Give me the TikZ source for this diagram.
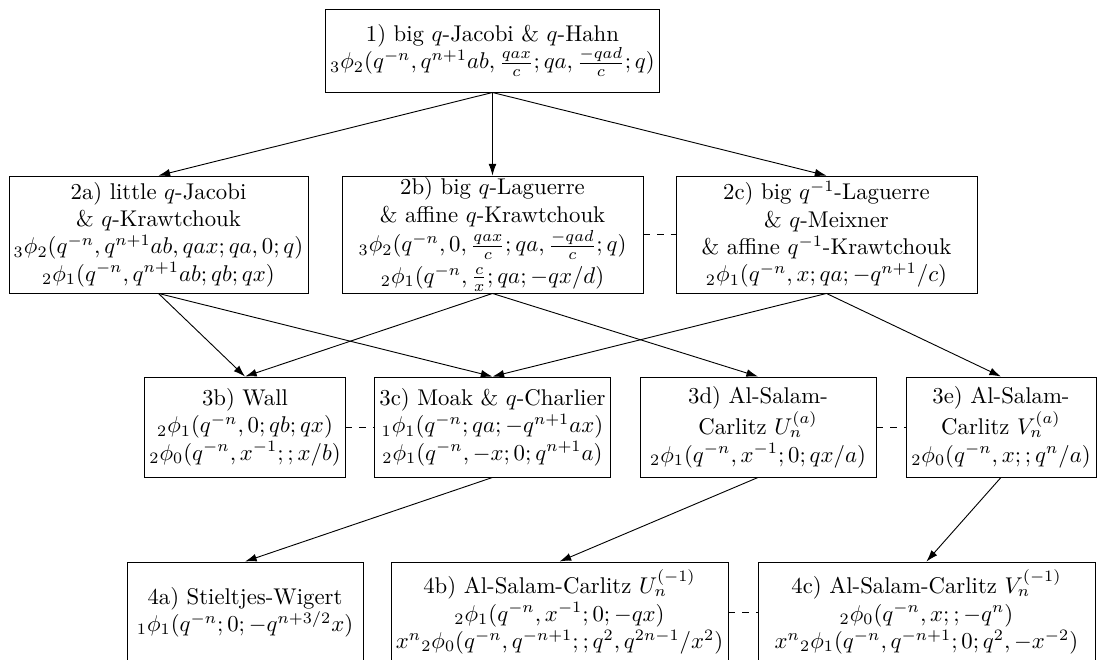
\documentclass[tikz,border=0pt]{standalone}
\usepackage{amsmath,amssymb}
\usepackage{tikz}
\usetikzlibrary{arrows.meta}

\begin{document}
\begin{tikzpicture}[>={Latex[length=1.8mm,width=1.2mm]},
  fam/.style={draw, align=center, inner sep=2pt}]
  \useasboundingbox (0,0) rectangle (16.984,-10.19);
  % level 1
  \node[fam, minimum width=5.142cm, minimum height=1.282cm] (n1) at (7.604,-0.78)
    {1) big $q$-Jacobi \& $q$-Hahn\\
     ${}_3\phi_2(q^{-n},q^{n+1}ab,\frac{qax}{c};qa,\frac{-qad}{c};q)$};
  % level 2
  \node[fam, minimum width=4.617cm, minimum height=1.806cm] (n2a) at (2.447,-3.621)
    {2a) little $q$-Jacobi\\ \& $q$-Krawtchouk\\
     ${}_3\phi_2(q^{-n},q^{n+1}ab,qax;qa,0;q)$\\
     ${}_2\phi_1(q^{-n},q^{n+1}ab;qb;qx)$};
  \node[fam, inner ysep=0.6pt, minimum width=4.647cm, minimum height=1.806cm] (n2b) at (7.604,-3.621)
    {2b) big $q$-Laguerre\\ \& affine $q$-Krawtchouk\\[1pt]
     ${}_3\phi_2(q^{-n},0,\frac{qax}{c};qa,\frac{-qad}{c};q)$\\[2pt]
     ${}_2\phi_1(q^{-n},\frac{c}{x};qa;-qx/d)$};
  \node[fam, minimum width=4.647cm, minimum height=1.806cm] (n2c) at (12.761,-3.621)
    {2c) big $q^{-1}$-Laguerre\\ \& $q$-Meixner\\
     \& affine $q^{-1}$-Krawtchouk\\
     ${}_2\phi_1(q^{-n},x;qa;-q^{n+1}/c)$};
  % level 3
  \node[fam, minimum width=3.088cm, minimum height=1.544cm] (n3b) at (3.783,-6.593)
    {3b) Wall\\ ${}_2\phi_1(q^{-n},0;qb;qx)$\\
     ${}_2\phi_0(q^{-n},x^{-1};;x/b)$};
  \node[fam, minimum width=3.628cm, minimum height=1.544cm] (n3c) at (7.604,-6.593)
    {3c) Moak \& $q$-Charlier\\ ${}_1\phi_1(q^{-n};qa;-q^{n+1}ax)$\\
     ${}_2\phi_1(q^{-n},-x;0;q^{n+1}a)$};
  \node[fam, minimum width=3.644cm, minimum height=1.544cm] (n3d) at (11.704,-6.593)
    {3d) Al-Salam-\\ Carlitz $U_n^{(a)}$\\
     ${}_2\phi_1(q^{-n},x^{-1};0;qx/a)$};
  \node[fam, minimum width=2.934cm, minimum height=1.544cm] (n3e) at (15.455,-6.593)
    {3e) Al-Salam-\\ Carlitz $V_n^{(a)}$\\
     ${}_2\phi_0(q^{-n},x;;q^n/a)$};
  % level 4
  \node[fam, minimum width=3.644cm, minimum height=1.544cm] (n4a) at (3.783,-9.449)
    {4a) Stieltjes-Wigert\\ ${}_1\phi_1(q^{-n};0;-q^{n+3/2}x)$};
  \node[fam, minimum width=5.203cm, minimum height=1.544cm] (n4b) at (8.639,-9.449)
    {4b) Al-Salam-Carlitz $U_n^{(-1)}$\\
     ${}_2\phi_1(q^{-n},x^{-1};0;-qx)$\\
     $x^n{}_2\phi_0(q^{-n},q^{-n+1};;q^2,q^{2n-1}/x^2)$};
  \node[fam, minimum width=5.203cm, minimum height=1.544cm] (n4c) at (14.305,-9.449)
    {4c) Al-Salam-Carlitz $V_n^{(-1)}$\\
     ${}_2\phi_0(q^{-n},x;;-q^n)$\\
     $x^n{}_2\phi_1(q^{-n},q^{-n+1};0;q^2,-x^{-2})$};

  % limits
  \draw[->] (n1.south) -- (n2a.north);
  \draw[->] (n1.south) -- (n2b.north);
  \draw[->] (n1.south) -- (n2c.north);
  \draw[->] (n2a.south) -- (n3b.north);
  \draw[->] (n2a.south) -- (n3c.north);
  \draw[->] (n2b.south) -- (n3b.north);
  \draw[->] (n2b.south) -- (n3d.north);
  \draw[->] (n2c.south) -- (n3c.north);
  \draw[->] (n2c.south) -- (n3e.north);
  \draw[->] (n3c.south) -- (n4a.north);
  \draw[->] (n3d.south) -- (n4b.north);
  \draw[->] (n3e.south) -- (n4c.north);

  % duality
  \draw[dashed] (n2b.east) -- (n2c.west);
  \draw[dashed] (n3b.east) -- (n3c.west);
  \draw[dashed] (n3d.east) -- (n3e.west);
  \draw[dashed] (n4b.east) -- (n4c.west);
\end{tikzpicture}
\end{document}
